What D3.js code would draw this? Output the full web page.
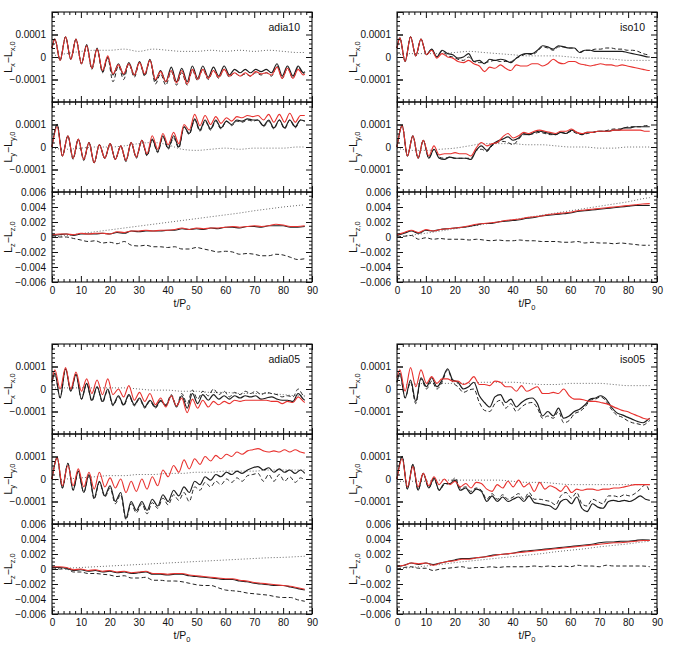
<!DOCTYPE html>
<html lang="en">
<head>
<meta charset="UTF-8">
<title>Angular momentum change</title>
<script src="https://d3js.org/d3.v7.min.js"></script>
<style>
  body { margin: 0; background: #fff; }
  svg { display: block; }
</style>
</head>
<body>
<svg id="chart" width="676" height="656"></svg>
<script>
// time samples (t/P0) - Lx rows are sampled at the swing extremes, Ly rows likewise
const tLx = [0, 1.0, 2.8, 4.7, 6.5, 8.3, 10.2, 12.0, 13.8, 15.6,
  17.5, 19.3, 21.1, 23.0, 24.8, 26.6, 28.5, 30.3, 32.1, 33.9,
  35.8, 37.6, 39.4, 41.3, 43.1, 44.9, 46.8, 48.6, 50.4, 52.2,
  54.1, 55.9, 57.7, 59.6, 61.4, 63.2, 65.1, 66.9, 68.7, 70.5,
  72.4, 74.2, 76.0, 77.9, 79.7, 81.5, 83.4, 85.2, 87.0, 87.5];
const tLy = [0, 1.8, 3.6, 5.5, 7.3, 9.1, 11.0, 12.8, 14.6, 16.4,
  18.3, 20.1, 21.9, 23.8, 25.6, 27.4, 29.2, 31.1, 32.9, 34.7,
  36.6, 38.4, 40.2, 42.1, 43.9, 45.7, 47.5, 49.4, 51.2, 53.0,
  54.9, 56.7, 58.5, 60.4, 62.2, 64.0, 65.8, 67.7, 69.5, 71.3,
  73.2, 75.0, 76.8, 78.7, 80.5, 82.3, 84.2, 86.0, 87.5];
const tLz = [0, 2.5, 5, 7.5, 10, 12.5, 15, 17.5, 20, 22.5,
  25, 27.5, 30, 32.5, 35, 37.5, 40, 42.5, 45, 47.5,
  50, 52.5, 55, 57.5, 60, 62.5, 65, 67.5, 70, 72.5,
  75, 77.5, 80, 82.5, 85, 87.5];
const tDot = [0, 5, 10, 15, 20, 25, 30, 35, 40, 45, 50, 55, 60, 65, 70, 75, 80, 85, 87.5];

// Lx, Ly values in units of 1e-5 ; Lz in units of 1e-3
// ---- adia10
const adia10LxSolid = [4, 8, -1.5, 9, -1, 8, -3, 5.5, -5, 4,
  -6.5, 0, -8, -3, -8, -2.5, -8, -2, -8, -1,
  -10.5, -6, -11, -4.5, -11, -5, -11, -4, -9.5, -4,
  -9, -4.5, -8.5, -4, -8, -5.5, -7, -5.5, -7, -5.5,
  -6.5, -5.5, -7, -3, -8.5, -4, -8.5, -4, -7, -6.5];
const adia10LxRed = [4, 8, -1.5, 9, -1, 8, -3, 5, -5, 3.5,
  -6, 0.5, -7.5, -3.5, -7.5, -3, -8, -2.5, -7.5, -1.5,
  -10, -6.5, -11, -6, -11.5, -6, -12, -5.5, -10, -5.5,
  -9.5, -6, -9, -5.5, -8.5, -7, -8.5, -7, -8.5, -6.5,
  -7.5, -7, -8, -4.5, -9.5, -5, -9.5, -5.5, -8, -7.5];
const adia10LxDash = [4, 8, -1.5, 9, -1, 8, -3, 5, -5.5, 3.5,
  -7, -0.5, -11, -4, -10, -3, -9, -2.5, -8.5, -1.5,
  -12, -7.5, -12.5, -6.5, -12.5, -7, -12.5, -6, -10.5, -5.5,
  -10, -6, -9.5, -5.5, -9, -7, -8.5, -7.5, -8.5, -7,
  -8, -7, -8.5, -4, -9.5, -5, -9.5, -4.5, -7.5, -7];
const adia10LxDot = [0.5, 1.5, 2.5, 3, 3, 3.5, 2.5, 3.5, 3, 2.5, 2.5, 3, 2.5, 3, 2.5, 3, 2.5, 2, 2];

const adia10LySolid = [0, 10, -4, 5, -5, 3.5, -5.5, 2, -7, 1,
  -5, 1.5, -5.5, 0.5, -6, 2, -4.5, 3, -3.5, 3.5,
  -2, 5, -0.5, 5, 0, 9, 6, 12.5, 7.5, 12,
  8, 12, 8.5, 11.5, 10, 12, 11.5, 12.5, 12, 12,
  9.5, 12, 8.5, 12, 8.5, 12, 9, 12, 11.5];
const adia10LyRed = [0, 9, -4, 5, -5, 3.5, -5.5, 2, -7, 1,
  -5, 1.5, -5.5, 0.5, -6, 2, -4.5, 3, -3, 5,
  -1, 6, 1, 6.5, 1.5, 10, 7.5, 14.5, 9.5, 14,
  10, 13.5, 10.5, 13, 11.5, 13.5, 13, 14, 13.5, 14,
  12, 14.5, 11, 14.5, 11, 15, 11, 14, 14];
const adia10LyDash = [0, 10, -4, 5, -5.5, 3.5, -6, 2, -7, 1,
  -5, 1.5, -5.5, 0.5, -6.5, 2, -5, 3, -4, 3,
  -2.5, 4.5, -1, 4, -0.5, 9, 5.5, 12, 7, 11.5,
  7.5, 11.5, 8, 11.5, 9.5, 11.5, 11, 12, 11.5, 12,
  9, 11.5, 8, 12, 8, 12, 8.5, 12, 11.5];
const adia10LyDot = [-0.5, -1, -0.5, 0, 0, 0.5, 1.5, 2, 1, -1, -1.5, -1, -0.5, -1, -0.5, -0.5, -0.5, 0, 0];

const adia10LzSolid = [0.2, 0.3, 0.4, 0.2, 0.4, 0.4, 0.4, 0.5, 0.4, 0.6,
  0.5, 0.8, 0.7, 0.8, 0.8, 0.8, 0.9, 0.9, 1.1, 1.0,
  1.1, 1.0, 1.2, 1.1, 1.3, 1.3, 1.2, 1.4, 1.4, 1.3,
  1.5, 1.5, 1.5, 1.3, 1.3, 1.4];
const adia10LzRed = [0.3, 0.4, 0.4, 0.3, 0.5, 0.4, 0.5, 0.5, 0.4, 0.7,
  0.6, 0.8, 0.8, 0.9, 0.8, 0.9, 0.9, 1.0, 1.2, 1.0,
  1.2, 1.1, 1.2, 1.2, 1.3, 1.4, 1.3, 1.4, 1.5, 1.4,
  1.5, 1.7, 1.6, 1.4, 1.4, 1.5];
const adia10LzDash = [0, 0, 0, -0.2, -0.4, -0.6, -0.5, -0.8, -0.7, -0.9,
  -0.6, -1.1, -1.2, -1.1, -1.3, -1.3, -1.4, -1.3, -1.6, -1.6,
  -1.4, -1.6, -1.8, -2.0, -1.9, -2.0, -2.3, -2.2, -2.3, -2.5,
  -2.5, -2.3, -2.4, -2.7, -3.0, -2.9];
const adia10LzDot = [0, 0.2, 0.45, 0.7, 0.95, 1.2, 1.45, 1.7, 1.95, 2.2, 2.45, 2.7, 2.95, 3.2, 3.5, 3.75, 4.0, 4.2, 4.3];

// ---- iso10
const iso10LxSolid = [4, 8.5, -2, 9, 0.5, 8, 1, 3.5, 0, 3,
  1.5, 1, -0.5, 0, 1.5, -2, -1.5, -3, -1, -1.5,
  -1, -1.5, -2.5, -0.5, 1, 1.5, 1.5, 3, 5, 4.5,
  3.5, 5, 4.5, 4, 4, 2, 3, 3, 2.5, 2.5,
  2.5, 2.5, 2.5, 2.5, 2, 1.5, 1, 0.5, 0, 0];
const iso10LxRed = [4, 8.5, -2, 9, 0.5, 8, 1, 3, -0.5, 1.5,
  0, -0.5, -2, -2.5, -1.5, -3, -4, -6.5, -4.5, -5,
  -3.5, -5, -6, -3.5, -4, -4, -3, -3, -4, -3,
  -1, -2.5, -3, -2, -2, -3, -3.5, -4, -3.5, -3,
  -3.5, -3.5, -4, -3.5, -4, -4.5, -5, -5.5, -6, -6];
const iso10LxDash = [4, 8.5, -2, 9, 0.5, 8, 1, 3.5, 0, 2.5,
  0.5, 0, -1, -1.5, 0, -2, -2.5, -2.5, -2, -1.5,
  -2, -2, -2, -0.5, 0.5, 1.5, 1, 2.5, 4.5, 4,
  3, 4.5, 4.5, 4, 4, 2, 3, 3, 3.5, 3.5,
  4, 4, 3.5, 3.5, 3, 3, 2.5, 1.5, 1, 1];
const iso10LxDot = [1, 1.5, 1.5, 1.5, 2, 2.5, 2, 1.5, 1, 0.5, 0.5, 0.5, 0, -0.5, -0.5, -1, -1.5, -1.5, -1.5];

const iso10LySolid = [0, 9.5, -4, 5, -5, 3, -5, -1, -5, -5.5,
  -4.5, -5, -5, -5, -5.5, -1.5, 0.5, -1.5, 1, 2.5,
  3.5, 4.5, 3, 4, 6, 5.5, 6.5, 7, 6.5, 6,
  5.5, 6.5, 6, 7.5, 6.5, 5.5, 6.5, 6.5, 7, 7,
  7, 7.5, 7.5, 8.5, 8.5, 9, 9, 9, 9];
const iso10LyRed = [0, 9.5, -4, 5, -5, 3, -4, 0.5, -3.5, -3,
  -3, -2.5, -3, -3, -4, -0.5, 2, 0.5, 1.5, 2,
  4.5, 6, 4, 5, 6.5, 6, 7, 7.5, 7, 6.5,
  6, 7, 7, 8, 6.5, 6, 6.5, 6.5, 7, 7,
  7, 7.5, 7.5, 7.5, 7.5, 7.5, 7.5, 7, 7];
const iso10LyDash = [0, 9.5, -4, 5, -5, 3, -5, -1, -4.5, -5,
  -4.5, -5, -5, -5, -5, -1.5, -1, -2, 0.5, 2,
  2.5, 2, 1, 3.5, 5.5, 5.5, 6, 6.5, 6, 5.5,
  5.5, 6.5, 6, 7, 6, 5.5, 6, 6.5, 7, 7,
  7.5, 8, 8, 8.5, 9, 9, 9, 9.5, 9.5];
const iso10LyDot = [-0.5, -1.5, -1.5, -1, -0.5, 0.5, 1.5, 1.5, 1.5, 1, 1, 0.5, 0, 0, -0.5, -0.5, 0, 0, 0];

const iso10LzSolid = [0.2, 0.5, 0.8, 0.5, 0.9, 0.8, 1.0, 1.1, 1.2, 1.3,
  1.4, 1.6, 1.8, 1.8, 2.0, 2.1, 2.2, 2.3, 2.5, 2.6,
  2.8, 2.9, 3.0, 3.1, 3.2, 3.4, 3.5, 3.6, 3.7, 3.8,
  3.9, 4.0, 4.1, 4.2, 4.2, 4.2];
const iso10LzRed = [0.3, 0.6, 0.9, 0.6, 1.0, 0.8, 1.0, 1.1, 1.2, 1.3,
  1.5, 1.7, 1.8, 1.9, 2.0, 2.2, 2.3, 2.4, 2.6, 2.7,
  2.8, 3.0, 3.1, 3.2, 3.3, 3.5, 3.6, 3.7, 3.8, 3.9,
  4.0, 4.1, 4.2, 4.3, 4.4, 4.45];
const iso10LzDash = [0, 0.1, 0.2, -0.3, -0.1, -0.3, -0.2, -0.3, -0.3, -0.3,
  -0.4, -0.3, -0.4, -0.5, -0.4, -0.5, -0.5, -0.4, -0.5, -0.5,
  -0.6, -0.6, -0.6, -0.7, -0.7, -0.6, -0.8, -0.7, -0.8, -0.8,
  -0.9, -0.8, -0.9, -1.0, -1.1, -1.1];
const iso10LzDot = [0, 0.25, 0.5, 0.8, 1.1, 1.4, 1.7, 2.0, 2.3, 2.6, 2.9, 3.2, 3.5, 3.8, 4.1, 4.4, 4.7, 5.1, 5.25];

// ---- adia05
const adia05LxSolid = [3, 7, -4, 9, -1, 6.5, -4.5, 2.5, -5, 1,
  -5.5, 0, -7, -3, -7, -2.5, -7, -4, -8, -5,
  -8, -5, -7.5, -3, -8, -3, -8.5, -2, -6.5, -2.5,
  -5, -2.5, -4.5, -3, -4.5, -3, -4, -3, -3.5, -3,
  -4.5, -4, -3.5, -4.5, -5, -5, -5.5, -2, -4.5, -5];
const adia05LxRed = [4, 8.5, 0, 9.5, 0, 7.5, -1, 4.5, -2, 4,
  -2.5, 4.5, -2.5, 0, -3.5, 1.5, -5, -1.5, -5.5, -2,
  -7, -4, -8, -3, -7.5, -4, -10.5, -4.5, -8.5, -5,
  -8, -5.5, -7, -5.5, -6.5, -5, -5.5, -5, -5, -5,
  -5, -5, -5.5, -5.5, -6.5, -5.5, -6, -3.5, -5.5, -6];
const adia05LxDash = [3, 7, -4, 9, -1, 6.5, -4.5, 2.5, -5.5, 1,
  -6, -0.5, -7.5, -3.5, -7.5, -3, -7.5, -4.5, -8.5, -5.5,
  -8.5, -5.5, -7, -2.5, -7.5, -2, -6.5, -0.5, -4.5, -1,
  -3, 0, -2.5, -1, -3.5, -1.5, -2.5, -1, -2, -1,
  -2.5, -1.5, -2, -2.5, -3.5, -3, -3.5, 0, -3, -3.5];
const adia05LxDot = [0.5, 0.5, 0.5, 0.5, 0.5, 0.5, 0, -0.5, -0.5, -1, -1, -1.5, -1.5, -2, -2, -2, -2.5, -3, -3];

const adia05LySolid = [0, 9.5, -4, 7, -5, 3.5, -6, 2, -8.5, -1,
  -7.5, -3, -10, -6, -17.5, -10, -14, -10, -14, -9,
  -12, -7, -10, -5, -7.5, -3.5, -6, -1, -2.5, 1,
  -0.5, 2, 1, 3, 2, 3.5, 2.5, 4, 5, 5.5,
  4, 5, 3, 4.5, 3, 4, 2.5, 4, 2.5];
const adia05LyRed = [0, 9.5, -3, 6, -3, 4.5, -3.5, 3, -4.5, 3,
  -3.5, 0.5, -4, 0, -6, -1, -5.5, 0, -4.5, 1,
  -3, 4, 1, 6, 3, 8.5, 4.5, 9, 6.5, 10,
  8, 10.5, 9, 11, 10, 12, 11, 12.5, 13, 13.5,
  12.5, 12, 12.5, 12, 13, 12, 13, 12, 11.5];
const adia05LyDash = [0, 9.5, -4, 7, -5, 3.5, -6, 2, -9, -1.5,
  -8, -4, -11, -7, -18, -11, -15, -11, -15.5, -10.5,
  -13, -8.5, -11.5, -7, -9.5, -6, -10, -3.5, -5, -1.5,
  -3.5, -1, -2.5, 0, -1.5, 0.5, -1, 1.5, 2, 2.5,
  -1, 2, -1, 2, -1, 1, -1.5, 0.5, -0.5];
const adia05LyDot = [-0.5, 0, 0.5, 1, 1.5, 1.5, 2, 2, 2.5, 2.5, 3, 3, 3.5, 3.5, 3.5, 4, 4, 4, 4];

const adia05LzSolid = [0.2, 0.2, 0.1, -0.2, -0.1, -0.3, -0.2, -0.4, -0.3, -0.5,
  -0.4, -0.6, -0.5, -0.4, -0.7, -0.7, -0.8, -0.7, -0.7, -0.9,
  -1.0, -1.1, -1.2, -1.3, -1.4, -1.4, -1.6, -1.7, -1.9, -2.0,
  -2.1, -2.2, -2.2, -2.4, -2.6, -2.8];
const adia05LzRed = [0.3, 0.3, 0.2, -0.1, 0.0, -0.2, -0.1, -0.3, -0.2, -0.4,
  -0.3, -0.5, -0.4, -0.3, -0.6, -0.6, -0.7, -0.6, -0.6, -0.8,
  -0.9, -1.0, -1.1, -1.2, -1.3, -1.3, -1.5, -1.6, -1.8, -1.9,
  -2.0, -2.1, -2.2, -2.3, -2.5, -2.7];
const adia05LzDash = [0, 0, 0, -0.4, -0.4, -0.6, -0.6, -0.7, -0.8, -1.0,
  -0.9, -1.2, -1.2, -1.1, -1.5, -1.5, -1.6, -1.6, -1.7, -1.9,
  -2.1, -2.2, -2.2, -2.5, -2.8, -2.9, -3.0, -3.2, -3.3, -3.4,
  -3.5, -3.7, -3.8, -3.8, -4.1, -4.3];
const adia05LzDot = [0, 0.1, 0.2, 0.3, 0.4, 0.5, 0.6, 0.7, 0.8, 0.9, 1.0, 1.1, 1.2, 1.3, 1.4, 1.5, 1.55, 1.65, 1.7];

// ---- iso05
const iso05LxSolid = [3, 7, -4, 4, -5.5, 5, 1, 5, 1, 4,
  9, 4, 3, 0, 1, 3, -3, -6, -8, -3.5,
  -2.5, -6, -4.5, -8, -6, -4.5, -4, -6.5, -12, -10,
  -12, -8.5, -13, -12, -10, -9, -7, -4.5, -4, -3,
  -4.5, -8, -10.5, -11.5, -12.5, -13.5, -14.5, -15, -13.5, -13];
const iso05LxRed = [5, 8.5, -1, 9.5, 1, 8.5, 2.5, 5.5, 2.5, 4.5,
  4.5, 3.5, 3.5, 2, 3, 5.5, 2, 2, 1.5, 3.5,
  3, 1, 1, -1, 1.5, -1, 0, 1, -2, -2,
  -1.5, -2, 0, -3, -4.5, -4.5, -5, -5.5, -5.5, -6,
  -6.5, -7.5, -8.5, -9.5, -10, -11, -12, -13, -13.5, -13];
const iso05LxDash = [3, 7, -4, 3, -6.5, 4.5, 0, 3.5, 0, 3,
  8.5, 3, 1, -1.5, -0.5, 0, -6, -9.5, -10, -6.5,
  -5, -8.5, -6.5, -10, -8, -6.5, -6, -8.5, -13, -12,
  -13, -10, -15, -14, -11, -10, -8, -5, -4.5, -3.5,
  -5.5, -9, -11.5, -12.5, -14, -15, -15.5, -16, -14.5, -14];
const iso05LxDot = [1.5, 2, 2.5, 2.5, 2.5, 2.5, 3, 3, 3, 2.5, 2, 2, 2.5, 2.5, 2.5, 2, 1.5, 1.5, 1.5];

const iso05LySolid = [0, 10, -4.5, 6.5, -5, 2.5, -4, 0.5, -5, -2,
  -2, -0.5, -5, -4, -6.5, -4.5, -5.5, -10, -7.5, -10,
  -8, -10, -9, -8, -10, -7.5, -10.5, -11, -11.5, -12,
  -13.5, -10, -9, -11, -8, -13, -14.5, -11, -12.5, -13,
  -10, -9.5, -10, -9.5, -10, -9, -7.5, -9, -9.5];
const iso05LyRed = [0, 9, -3.5, 5.5, -3.5, 2.5, -3, 1, -2.5, 0,
  -2.5, -1, -3.5, -2, -4, -1.5, -2, -4.5, -5.5, -2.5,
  -4, -1, -3.5, -0.5, -3.5, -2, -5.5, -1.5, -4.5, -3,
  -4, -5.5, -3, -6, -4.5, -5, -4.5, -4.5, -5, -4.5,
  -4.5, -4, -4, -3.5, -3, -2.5, -2.5, -2.5, -2.5];
const iso05LyDash = [0, 10, -4.5, 6.5, -5, 2.5, -4, 0, -5, -2.5,
  -2, 0.5, -4, -3.5, -5.5, -4, -5, -9, -6.5, -9,
  -7, -9, -8, -6.5, -9, -6, -9, -9, -9.5, -10,
  -11.5, -7.5, -6, -8.5, -6, -11, -12, -9, -10, -11,
  -7.5, -7.5, -8, -7, -7.5, -6.5, -4.5, -2.5, -6];
const iso05LyDot = [-1, -1, -1, -0.5, -0.5, -0.5, -0.5, -0.5, -1, -1.5, -1.5, -2, -2.5, -2.5, -2.5, -2.5, -2.5, -2.5, -2.5];

const iso05LzSolid = [0.3, 0.5, 0.8, 0.6, 0.8, 0.6, 0.8, 1.0, 1.2, 1.4,
  1.4, 1.5, 1.6, 1.8, 1.9, 2.0, 2.1, 2.3, 2.4, 2.5,
  2.6, 2.7, 2.8, 2.9, 3.0, 3.1, 3.2, 3.3, 3.5, 3.6,
  3.6, 3.7, 3.7, 3.8, 3.9, 3.85];
const iso05LzRed = [0.4, 0.5, 0.8, 0.7, 0.8, 0.5, 0.8, 1.0, 1.1, 1.3,
  1.3, 1.5, 1.6, 1.7, 1.9, 2.0, 2.1, 2.2, 2.3, 2.4,
  2.5, 2.6, 2.7, 2.8, 2.9, 3.0, 3.1, 3.2, 3.3, 3.4,
  3.5, 3.5, 3.6, 3.7, 3.8, 3.8];
const iso05LzDash = [0, 0.2, 0.3, 0.1, 0.1, -0.2, 0.0, 0.1, 0.2, 0.3,
  0.1, 0.2, 0.2, 0.3, 0.2, 0.3, 0.3, 0.3, 0.3, 0.4,
  0.3, 0.4, 0.3, 0.4, 0.3, 0.5, 0.4, 0.4, 0.3, 0.5,
  0.4, 0.4, 0.4, 0.4, 0.4, 0.3];
const iso05LzDot = [0, 0.2, 0.4, 0.6, 0.85, 1.05, 1.25, 1.45, 1.65, 1.85, 2.05, 2.3, 2.5, 2.7, 2.95, 3.15, 3.35, 3.6, 3.7];

// tick labels
const xTickValues = [0, 10, 20, 30, 40, 50, 60, 70, 80, 90];
const xTickLabels = ['0', '10', '20', '30', '40', '50', '60', '70', '80', '90'];
const smallTickValues = [-10, 0, 10];
const smallTickLabels = ['\u22120.0001', '0', '0.0001'];
const bigTickValues = [-6, -4, -2, 0, 2, 4, 6];
const bigTickLabels = ['\u22120.006', '\u22120.004', '\u22120.002', '0', '0.002', '0.004', '0.006'];

// table built from the arrays above
const runs = [
  { name: 'adia10', col: 0, row: 0,
    lx: [adia10LxDot, adia10LxDash, adia10LxSolid, adia10LxRed],
    ly: [adia10LyDot, adia10LyDash, adia10LySolid, adia10LyRed],
    lz: [adia10LzDot, adia10LzDash, adia10LzSolid, adia10LzRed] },
  { name: 'iso10', col: 1, row: 0,
    lx: [iso10LxDot, iso10LxDash, iso10LxSolid, iso10LxRed],
    ly: [iso10LyDot, iso10LyDash, iso10LySolid, iso10LyRed],
    lz: [iso10LzDot, iso10LzDash, iso10LzSolid, iso10LzRed] },
  { name: 'adia05', col: 0, row: 1,
    lx: [adia05LxDot, adia05LxDash, adia05LxSolid, adia05LxRed],
    ly: [adia05LyDot, adia05LyDash, adia05LySolid, adia05LyRed],
    lz: [adia05LzDot, adia05LzDash, adia05LzSolid, adia05LzRed] },
  { name: 'iso05', col: 1, row: 1,
    lx: [iso05LxDot, iso05LxDash, iso05LxSolid, iso05LxRed],
    ly: [iso05LyDot, iso05LyDash, iso05LySolid, iso05LyRed],
    lz: [iso05LzDot, iso05LzDash, iso05LzSolid, iso05LzRed] }
];

const svg = d3.select('#chart');
svg.append('rect').attr('width', 676).attr('height', 656).attr('fill', '#fff');

const font = "'Liberation Sans', Arial, sans-serif";
const panelLeft = [52, 397];
const panelTop = [12, 344];
const plotW = 260;
const rowH = 90;

// dotted, dashed, solid, red
const styles = [
  { stroke: '#444', width: 0.8, dash: '1,2' },
  { stroke: '#222', width: 1.0, dash: '4,2.5' },
  { stroke: '#1e1e1e', width: 1.2, dash: null },
  { stroke: '#e8322f', width: 1.1, dash: null }
];

runs.forEach(run => {
  const x0 = panelLeft[run.col];
  const y0 = panelTop[run.row];
  const x = d3.scaleLinear().domain([0, 90]).range([x0, x0 + plotW]);

  const rows = [
    { key: 'lx', times: [tDot, tLx, tLx, tLx], domain: [-20, 20], major: smallTickValues, labels: smallTickLabels, minorStep: 2, comp: 'x' },
    { key: 'ly', times: [tDot, tLy, tLy, tLy], domain: [-20, 20], major: smallTickValues, labels: smallTickLabels, minorStep: 2, comp: 'y' },
    { key: 'lz', times: [tDot, tLz, tLz, tLz], domain: [-6, 6], major: bigTickValues, labels: bigTickLabels, minorStep: 0.5, comp: 'z' }
  ];

  rows.forEach((r, ri) => {
    const top = y0 + ri * rowH;
    const bottom = top + rowH;
    const y = d3.scaleLinear().domain(r.domain).range([bottom, top]);
    const g = svg.append('g').attr('font-family', font);

    // series
    r.times.forEach((ts, si) => {
      const vs = run[r.key][si];
      const n = Math.min(ts.length, vs.length);
      const pts = d3.range(n).map(i => [ts[i], vs[i]]);
      const st = styles[si];
      g.append('path')
        .datum(pts)
        .attr('fill', 'none')
        .attr('stroke', st.stroke)
        .attr('stroke-width', st.width)
        .attr('stroke-dasharray', st.dash)
        .attr('d', d3.line().x(d => x(d[0])).y(d => y(d[1])).curve(d3.curveMonotoneX));
    });

    // frame
    g.append('rect')
      .attr('x', x0).attr('y', top).attr('width', plotW).attr('height', rowH)
      .attr('fill', 'none').attr('stroke', '#111').attr('stroke-width', 1.1);

    const minorX = d3.range(0, 90.01, 2).filter(v => v % 10 !== 0);
    const yLo = r.domain[0], yHi = r.domain[1];
    const majorY = d3.range(yLo, yHi + 0.001, r.major[1] - r.major[0]);
    const minorY = d3.range(yLo, yHi + 0.001, r.minorStep).filter(v => !majorY.some(m => Math.abs(m - v) < 1e-6));

    const isLast = ri === 2;
    const tick = (axis, tr, vals, size, fmt) => {
      const a = g.append('g').attr('transform', tr)
        .call(axis.tickValues(vals).tickSize(size).tickFormat(fmt));
      a.select('.domain').remove();
      a.selectAll('line').attr('stroke', '#111').attr('stroke-width', 1);
      return a;
    };

    // x ticks (bottom and top of every row, pointing inward)
    const xb = tick(d3.axisBottom(x).tickPadding(5), `translate(0,${bottom})`, xTickValues, -6,
      isLast ? (d, i) => xTickLabels[i] : () => '');
    tick(d3.axisBottom(x), `translate(0,${bottom})`, minorX, -3, () => '');
    tick(d3.axisTop(x), `translate(0,${top})`, xTickValues, -6, () => '');
    tick(d3.axisTop(x), `translate(0,${top})`, minorX, -3, () => '');
    xb.selectAll('text').attr('font-size', 10).attr('fill', '#111');

    // y ticks
    const yl = tick(d3.axisLeft(y).tickPadding(6), `translate(${x0},0)`, r.major, -6, (d, i) => r.labels[i]);
    yl.selectAll('text').attr('font-size', 10).attr('fill', '#111');
    tick(d3.axisLeft(y), `translate(${x0},0)`, majorY, -6, () => '');
    tick(d3.axisLeft(y), `translate(${x0},0)`, minorY, -3, () => '');
    tick(d3.axisRight(y), `translate(${x0 + plotW},0)`, majorY, -6, () => '');
    tick(d3.axisRight(y), `translate(${x0 + plotW},0)`, minorY, -3, () => '');

    // y title  L_c - L_c,0
    const yt = g.append('text')
      .attr('transform', `translate(${x0 - 40},${(top + bottom) / 2}) rotate(-90)`)
      .attr('text-anchor', 'middle')
      .attr('font-size', 10.5)
      .attr('fill', '#111');
    yt.append('tspan').text('L');
    yt.append('tspan').attr('dy', 2.5).attr('font-size', 7.5).text(r.comp);
    yt.append('tspan').attr('dy', -2.5).text('\u2212L');
    yt.append('tspan').attr('dy', 2.5).attr('font-size', 7.5).text(r.comp + ',0');

    if (ri === 0) {
      g.append('text')
        .attr('x', x0 + 248).attr('y', top + 19)
        .attr('text-anchor', 'end')
        .attr('font-size', 10.5)
        .attr('fill', '#111')
        .text(run.name);
    }
    if (isLast) {
      const xt = g.append('text')
        .attr('x', x0 + plotW / 2).attr('y', bottom + 25)
        .attr('text-anchor', 'middle')
        .attr('font-size', 10.5)
        .attr('fill', '#111');
      xt.append('tspan').text('t/P');
      xt.append('tspan').attr('dy', 2.5).attr('font-size', 7.5).text('0');
    }
  });
});
</script>
</body>
</html>
